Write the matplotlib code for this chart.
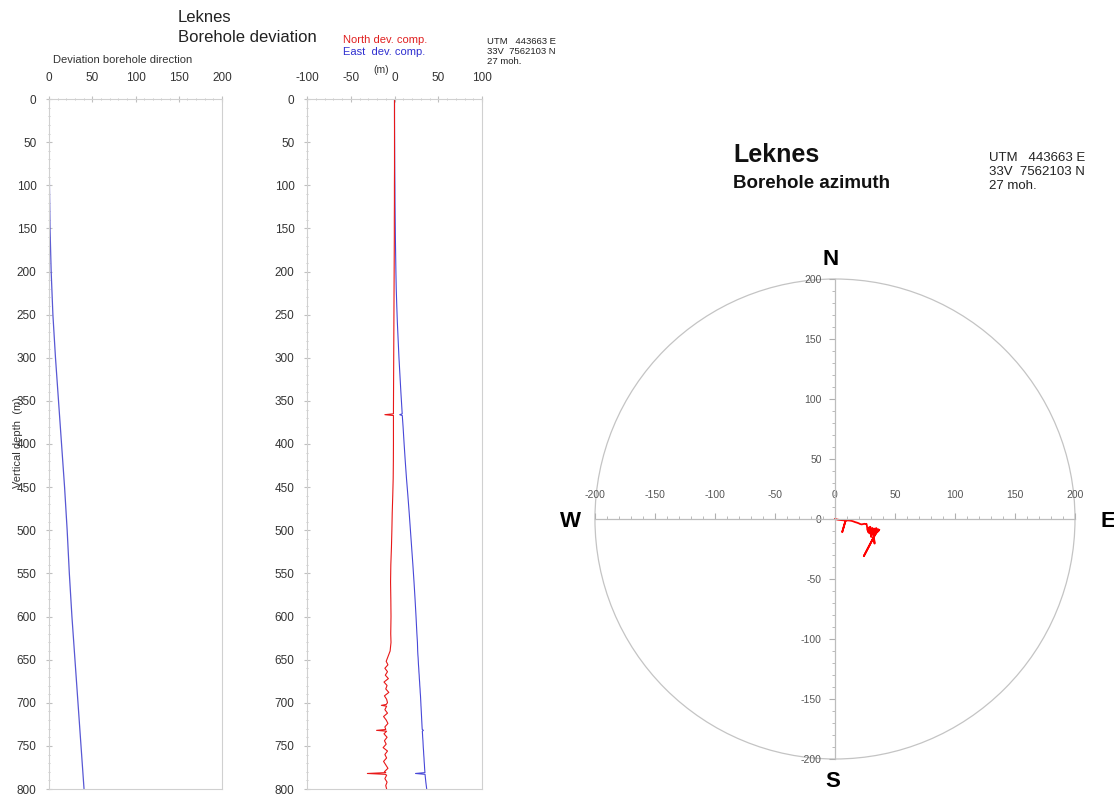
import numpy as np
import matplotlib
import matplotlib.pyplot as plt
from matplotlib.ticker import MultipleLocator, FixedLocator
from matplotlib.patches import Circle
from matplotlib.transforms import Bbox, TransformedBbox

plt.rcParams['font.family'] = ['Liberation Sans', 'DejaVu Sans']
plt.rcParams['axes.unicode_minus'] = False

# total deviation along the hole (smoothed)
dev_depth = [0, 50, 100, 150, 200, 250, 300, 350, 400, 450, 500, 550, 600, 650, 700, 750, 800]
dev_total = [0, 0.2, 0.5, 1.2, 2.5, 4.5, 7.5, 11.0, 14.5, 18.0, 21.0, 23.5, 26.5, 30, 33.5, 37, 40.5]

# survey stations: vertical depth (m), north and east components (m)
depth = [0, 20, 40, 60, 80, 100, 120, 140, 160, 180, 200, 220, 240, 260, 280, 300, 320, 340,
         360, 365, 366, 367, 380, 400, 420, 440, 460, 480, 500, 520, 540, 560, 580, 600, 620, 630,
         640, 644, 648, 652, 656, 660, 664, 668, 672, 676, 680, 684, 688, 692, 696, 700, 702, 703,
         704, 708, 712, 716, 720, 724, 728, 731, 732, 733, 736, 740, 744, 748, 752, 756, 760, 764,
         768, 772, 776, 780, 781, 782, 783, 784, 788, 792, 796, 800]
north = [0, 0, 0, 0, 0, -0.1, -0.1, -0.2, -0.2, -0.3, -0.4, -0.5, -0.6, -0.7, -0.8, -0.9, -1.0, -1.1,
         -1.2, -1.2, -11.0, -1.2, -1.2, -1.2, -1.3, -1.5, -2.0, -2.6, -3.0, -3.5, -4.2, -4.5, -4.2, -4.0, -4.3, -4.0,
         -5.0, -6.5, -8.0, -9.5, -7.5, -11.0, -8.0, -10.5, -7.0, -12.0, -8.5, -10.0, -6.5, -11.5, -9.0, -8.0, -9.5, -15.0,
         -9.0, -11.0, -8.0, -12.5, -9.5, -7.5, -11.0, -10.0, -20.5, -9.0, -12.0, -8.5, -11.5, -9.5, -13.0, -8.0, -11.0, -9.0,
         -12.5, -10.0, -7.5, -11.5, -10.0, -31.0, -10.5, -9.0, -11.0, -8.5, -10.0, -9.0]
east = [0, 0, 0.1, 0.2, 0.3, 0.5, 0.6, 0.8, 1.0, 1.3, 1.6, 2.0, 2.6, 3.3, 4.2, 5.1, 6.2, 7.3,
        8.5, 8.8, 6.0, 8.9, 9.8, 11.0, 12.3, 13.7, 15.3, 16.8, 18.2, 19.6, 21.0, 22.3, 23.5, 24.6, 25.6, 26.2,
        26.5, 26.7, 27.0, 27.2, 27.4, 27.7, 27.9, 28.2, 28.4, 28.7, 28.9, 29.2, 29.4, 29.7, 29.9, 30.1, 30.2, 30.2,
        30.3, 30.5, 30.7, 30.9, 31.1, 31.3, 31.5, 31.7, 33.0, 31.8, 32.0, 32.2, 32.5, 32.7, 32.9, 33.2, 33.4, 33.7,
        33.9, 34.2, 34.4, 34.7, 34.8, 24.0, 34.9, 35.0, 35.4, 35.8, 36.3, 36.8]

W, H = 1114, 795
fig = plt.figure(figsize=(W / 100, H / 100), dpi=100)


def px(x, y):
    return x / W, 1 - y / H


def depth_axes(left, right, xlim, xticks):
    ax = fig.add_axes([left / W, 1 - 789 / H, (right - left) / W, 690 / H])
    ax.set_xlim(xlim)
    ax.set_ylim(800, 0)
    ax.xaxis.tick_top()
    ax.set_xticks(xticks)
    ax.set_yticks(range(0, 801, 50))
    ax.xaxis.set_minor_locator(MultipleLocator(10))
    ax.yaxis.set_minor_locator(MultipleLocator(10))
    ax.tick_params(which='both', direction='inout', colors='#c0c0c0',
                   labelcolor='#333333', labelsize=8.5)
    ax.tick_params(which='major', length=4)
    ax.tick_params(which='minor', length=2)
    ax.tick_params(axis='x', pad=9)
    ax.tick_params(axis='y', pad=7)
    for s in ax.spines.values():
        s.set_color('#d0d0d0')
        s.set_linewidth(0.8)
    return ax


ax1 = depth_axes(49, 222, (0, 200), [0, 50, 100, 150, 200])
ax1.plot(dev_total, dev_depth, color='#5858d4', lw=0.9)

ax2 = depth_axes(307, 482, (-100, 100), [-100, -50, 0, 50, 100])
ax2.plot(east, depth, color='#4848d8', lw=0.8)
ax2.plot(north, depth, color='#e81818', lw=0.8)

fig.text(*px(178, 18), 'Leknes', fontsize=12, color='#222222', va='center')
fig.text(*px(178, 37), 'Borehole deviation', fontsize=12, color='#222222', va='center')
fig.text(*px(53, 60), 'Deviation borehole direction', fontsize=8, color='#333333', va='center')
fig.text(*px(18, 442), 'Vertical depth  (m)', fontsize=8, color='#333333',
         rotation=90, ha='center', va='center')
fig.text(*px(343, 40), 'North dev. comp.', fontsize=8, color='#e02020', va='center')
fig.text(*px(343, 52), 'East  dev. comp.', fontsize=8, color='#3030d0', va='center')
fig.text(*px(381, 70), '(m)', fontsize=7.5, color='#333333', ha='center', va='center')

clip = TransformedBbox(Bbox([[0, 0], [561 / W, 1]]), fig.transFigure)
for i, line in enumerate(['UTM   443663 E', '33V  7562103 N', '27 moh.']):
    t = fig.text(*px(487, 41 + 10.5 * i), line, fontsize=6.8, color='#222222', va='center', clip_on=True)
    t.set_clip_box(clip)

# azimuth plot: east vs north
ax3 = fig.add_axes([555 / W, 0, 559 / W, 555 / H])
ax3.set_xlim(-233.3, 232.5)
ax3.set_ylim(-230, 232.5)
ax3.patch.set_alpha(0)
ax3.add_patch(Circle((0, 0), 200, fill=False, ec='#c4c4c4', lw=0.9))
for side in ['bottom', 'right']:
    ax3.spines[side].set_visible(False)
ax3.spines['top'].set_position(('data', 0))
ax3.spines['left'].set_position(('data', 0))
ax3.spines['top'].set_bounds(-200, 200)
ax3.spines['left'].set_bounds(-200, 200)
for side in ['top', 'left']:
    ax3.spines[side].set_color('#bdbdbd')
    ax3.spines[side].set_linewidth(0.9)
ax3.xaxis.tick_top()
ax3.set_xticks(range(-200, 201, 50))
ax3.set_yticks(range(-200, 201, 50))
ax3.xaxis.set_minor_locator(FixedLocator(range(-200, 201, 10)))
ax3.yaxis.set_minor_locator(FixedLocator(range(-200, 201, 10)))
ax3.tick_params(which='both', direction='out', colors='#b0b0b0',
                labelcolor='#555555', labelsize=7.5)
ax3.tick_params(which='major', length=4.5)
ax3.tick_params(which='minor', length=2.5)
ax3.tick_params(axis='x', pad=9)
ax3.tick_params(axis='y', pad=5)
ax3.plot(east, north, color='#ff0000', lw=1.3)

ax3.text(-220, -1.7, 'W', fontsize=16, fontweight='bold', ha='center', va='center')
ax3.text(221, -1.7, 'E', fontsize=16, fontweight='bold', ha='left', va='center')
ax3.text(-4, 216, 'N', fontsize=16, fontweight='bold', ha='center', va='center')
ax3.text(-2, -219, 'S', fontsize=16, fontweight='bold', ha='center', va='center')

fig.text(*px(733, 155), 'Leknes', fontsize=18, fontweight='bold', color='#111111', va='center')
fig.text(*px(733, 183), 'Borehole azimuth', fontsize=13.5, fontweight='bold', color='#111111', va='center')
for i, line in enumerate(['UTM   443663 E', '33V  7562103 N', '27 moh.']):
    fig.text(*px(989, 158 + 14 * i), line, fontsize=9.5, color='#222222', va='center')

fig.savefig('out.png', dpi=100)
